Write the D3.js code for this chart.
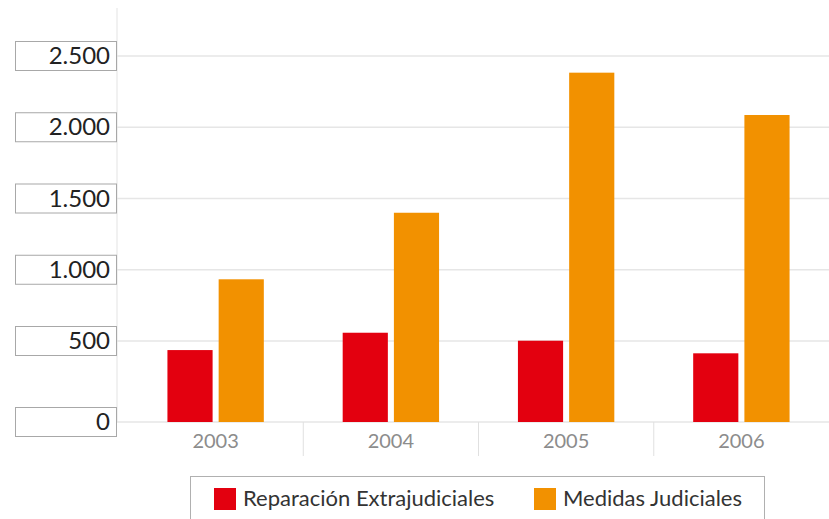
<!DOCTYPE html>
<html>
<head>
<meta charset="utf-8">
<script src="https://cdn.jsdelivr.net/npm/d3@7/dist/d3.min.js"></script>
<style>
  body { margin: 0; background: #fff; }
  svg { display: block; font-family: Lato, "DejaVu Sans", sans-serif; }
</style>
</head>
<body>
<div id="chart"></div>
<script>
const years = ["2003", "2004", "2005", "2006"]
const seriesNames = ["Reparación Extrajudiciales", "Medidas Judiciales"]
const reparacion = [444, 558, 502, 424]
const medidas = [933, 1400, 2383, 2086]
const tickValues = [0, 500, 1000, 1500, 2000, 2500]
const tickLabels = ["0", "500", "1.000", "1.500", "2.000", "2.500"]
const colors = ["#e3000f", "#f29100"]

const W = 829, H = 519

const svg = d3.select("#chart").append("svg")
  .attr("width", W).attr("height", H)

// the picture's axis is not evenly spaced below 500, so use a polylinear scale
const y = d3.scaleLinear().domain([0, 500, 2500]).range([422, 341, 56])
const x = d3.scaleBand().domain(years).range([128, 829])
const x1 = d3.scaleBand().domain(seriesNames).range([0, x.bandwidth()])
  .paddingInner(0.118).paddingOuter(0.77)

// gridlines
svg.append("g")
  .selectAll("line")
  .data(tickValues)
  .join("line")
  .attr("x1", 117).attr("x2", W)
  .attr("y1", d => y(d)).attr("y2", d => y(d))
  .attr("stroke", "#e6e6e6")
  .attr("stroke-width", 1.5)

// y axis line
svg.append("line")
  .attr("x1", 117).attr("x2", 117)
  .attr("y1", 8).attr("y2", y(0))
  .attr("stroke", "#e3e3e3")

// category dividers
svg.append("g")
  .selectAll("line")
  .data(years.slice(1))
  .join("line")
  .attr("x1", d => x(d)).attr("x2", d => x(d))
  .attr("y1", y(0)).attr("y2", y(0) + 34)
  .attr("stroke", "#e0e0e0")

// bars
const rows = years.map((yr, i) => ({year: yr, values: [reparacion[i], medidas[i]]}))
svg.append("g")
  .selectAll("g")
  .data(rows)
  .join("g")
  .attr("transform", d => `translate(${x(d.year)},0)`)
  .selectAll("rect")
  .data(d => d.values.map((v, j) => ({key: seriesNames[j], value: v, color: colors[j]})))
  .join("rect")
  .attr("x", d => x1(d.key))
  .attr("width", x1.bandwidth())
  .attr("y", d => y(d.value))
  .attr("height", d => y(0) - y(d.value))
  .attr("fill", d => d.color)

// year labels
svg.append("g")
  .selectAll("text")
  .data(years)
  .join("text")
  .attr("x", d => x(d) + x.bandwidth() / 2)
  .attr("y", 448)
  .attr("text-anchor", "middle")
  .attr("fill", "#8c8c8c")
  .style("font-size", "20px")
  .text(d => d)

// y tick labels in boxes
const yLab = svg.append("g")
  .selectAll("g")
  .data(tickValues)
  .join("g")
  .attr("transform", d => `translate(0,${y(d)})`)
yLab.append("rect")
  .attr("x", 15.5).attr("y", -14.5)
  .attr("width", 101).attr("height", 29)
  .attr("fill", "#fff")
  .attr("stroke", "#a8a8a8")
yLab.append("text")
  .attr("x", 110).attr("y", 8)
  .attr("text-anchor", "end")
  .attr("fill", "#222")
  .style("font-size", "24px")
  .text((d, i) => tickLabels[i])

// legend
const legend = svg.append("g")
legend.append("rect")
  .attr("x", 190.5).attr("y", 476.5)
  .attr("width", 574).attr("height", 60)
  .attr("fill", "#fff")
  .attr("stroke", "#b0b0b0")
const legendX = [214, 534]
const item = legend.selectAll("g")
  .data(seriesNames)
  .join("g")
  .attr("transform", (d, i) => `translate(${legendX[i]},488)`)
item.append("rect")
  .attr("width", 22).attr("height", 22)
  .attr("fill", (d, i) => colors[i])
item.append("text")
  .attr("x", 29).attr("y", 18)
  .attr("fill", "#333")
  .style("font-size", "22px")
  .text(d => d)
</script>
</body>
</html>
